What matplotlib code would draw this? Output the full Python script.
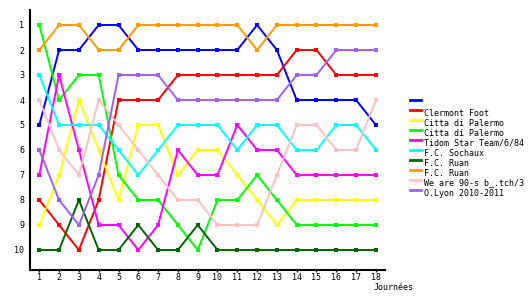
import matplotlib
matplotlib.use("Agg")
import matplotlib.pyplot as plt
from matplotlib.lines import Line2D

# journees 1..18, rank of each team (1 = top)
journees = list(range(1, 19))

team_names = ["", "Clermont Foot", "Citta di Palermo", "Citta di Palermo",
              "Tidom Star Team/6/84", "F.C. Sochaux", "F.C. Ruan", "F.C. Ruan",
              "We are 90-s b_.tch/3", "O.Lyon 2010-2011"]

blue    = [5, 2, 2, 1, 1, 2, 2, 2, 2, 2, 2, 1, 2, 4, 4, 4, 4, 5]
red     = [8, 9, 10, 8, 4, 4, 4, 3, 3, 3, 3, 3, 3, 2, 2, 3, 3, 3]
yellow  = [9, 7, 4, 6, 8, 5, 5, 7, 6, 6, 7, 8, 9, 8, 8, 8, 8, 8]
lime    = [1, 4, 3, 3, 7, 8, 8, 9, 10, 8, 8, 7, 8, 9, 9, 9, 9, 9]
magenta = [7, 3, 6, 9, 9, 10, 9, 6, 7, 7, 5, 6, 6, 7, 7, 7, 7, 7]
cyan    = [3, 5, 5, 5, 6, 7, 6, 5, 5, 5, 6, 5, 5, 6, 6, 5, 5, 6]
dkgreen = [10, 10, 8, 10, 10, 9, 10, 10, 9, 10, 10, 10, 10, 10, 10, 10, 10, 10]
orange  = [2, 1, 1, 2, 2, 1, 1, 1, 1, 1, 1, 2, 1, 1, 1, 1, 1, 1]
pink    = [4, 6, 7, 4, 5, 6, 7, 8, 8, 9, 9, 9, 7, 5, 5, 6, 6, 4]
purple  = [6, 8, 9, 7, 3, 3, 3, 4, 4, 4, 4, 4, 4, 3, 3, 2, 2, 2]

series = [blue, red, yellow, lime, magenta, cyan, dkgreen, orange, pink, purple]
colors = ["#0000ff", "#ff0000", "#ffff00", "#00ff00", "#ff00ff",
          "#00ffff", "#006600", "#ff9900", "#ffc0c0", "#a060f0"]

plt.rcParams["font.family"] = "DejaVu Sans Mono"
plt.rcParams["font.size"] = 6

W, H = 530, 300
fig = plt.figure(figsize=(W / 100, H / 100), dpi=100)
ax = fig.add_axes([30 / W, 30 / H, 355 / W, 260 / H])

for vals, c in zip(series, colors):
    ax.plot(journees, vals, color=c, lw=1.4, marker="s", markersize=2.8,
            markeredgewidth=0)

ax.set_xlim(0.53, 18.46)
ax.set_ylim(10.8, 0.4)
ax.set_xticks(journees)
ax.set_yticks(range(1, 11))
ax.spines["top"].set_visible(False)
ax.spines["right"].set_visible(False)
ax.spines["left"].set_linewidth(1.5)
ax.spines["bottom"].set_linewidth(1.5)
ax.tick_params(axis="y", length=0, pad=4)
ax.tick_params(axis="x", length=1.5, width=1, pad=0.5)

fig.text(374 / W, 1 - 288 / H, "Journées", ha="left", va="center")

# legend drawn by hand, one row every 10 px
for i, (name, c) in enumerate(zip(team_names, colors)):
    y = 1 - (100 + 10 * i) / H
    fig.add_artist(Line2D([410 / W, 421 / W], [y, y], color=c, lw=2,
                          transform=fig.transFigure))
    fig.text(424 / W, y - 3 / H, name, ha="left", va="center")

fig.savefig("out.png", dpi=100)
